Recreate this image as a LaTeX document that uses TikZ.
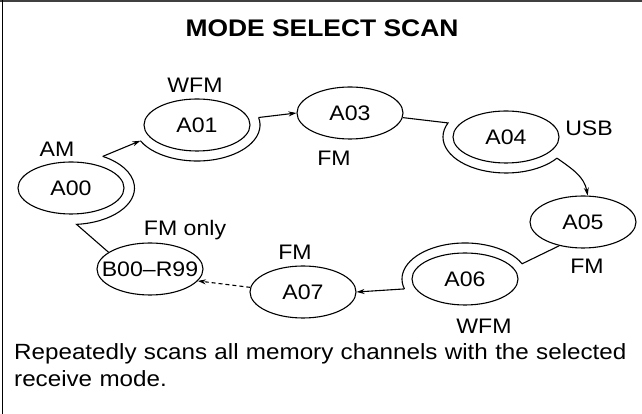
\documentclass[tikz,border=0pt]{standalone}
\usepackage{fontspec}
\setmainfont[FakeStretch=1.1]{Liberation Sans}
\usetikzlibrary{shapes.geometric,arrows.meta}
\begin{document}
\begin{tikzpicture}[x=1pt,y=1pt,
  st/.style={ellipse, draw, line width=1.1pt, minimum width=106pt, minimum height=52pt, inner sep=0pt, font=\fontsize{21}{25}\selectfont},
  lab/.style={anchor=base, inner sep=0pt, font=\fontsize{21}{25}\selectfont},
  con/.style={line width=1.1pt},
  arr/.style={con, -{Stealth[length=8pt,width=5pt]}},
  frameline/.style={line width=1.4pt}
]
\useasboundingbox (0,0) rectangle (642,414);
\draw[frameline, black!75, line width=2pt] (0,413) -- (642,413);
\draw[frameline] (2.5,0) -- (2.5,414);

\node[anchor=base, inner sep=0pt, font=\fontsize{24}{28}\selectfont\bfseries] (title) at (322,377) {MODE SELECT SCAN};

\node[st] (a00) at (71,226) {\makebox[0pt]{A00}};
\node[st] (a01) at (197,289) {\makebox[0pt]{A01}};
\node[st] (a03) at (350,301) {\makebox[0pt]{A03}};
\node[st] (a04) at (506,277) {\makebox[0pt]{A04}};
\node[st] (a05) at (583,192) {\makebox[0pt]{A05}};
\node[st] (a06) at (465,135) {\makebox[0pt]{A06}};
\node[st] (a07) at (303,122) {\makebox[0pt]{A07}};
\node[st] (b00) at (150,145) {\makebox[0pt]{B00–R99}};

\node[lab] (lam) at (57,257) {AM};
\node[lab] (lwfm1) at (195,321.5) {WFM};
\node[lab] (lfm1) at (334,248.5) {FM};
\node[lab] (lusb) at (589,278) {USB};
\node[lab] (lfm2) at (587,140.5) {FM};
\node[lab] (lwfm2) at (484,80.5) {WFM};
\node[lab] (lfm3) at (295,154) {FM};
\node[lab] (lfmo) at (185,178) {FM only};

\coordinate (p00a) at ([shift={(-85:63.5 and 36.5)}]a00.center);
\coordinate (p00b) at ([shift={(60:63.5 and 36.5)}]a00.center);
\coordinate (p01a) at ([shift={(-154:63 and 36)}]a01.center);
\coordinate (p01b) at ([shift={(12:63 and 36)}]a01.center);
\coordinate (p04a) at ([shift={(157:63 and 36)}]a04.center);
\coordinate (p04b) at ([shift={(324:63 and 36)}]a04.center);
\coordinate (p06a) at ([shift={(25:63 and 36)}]a06.center);
\coordinate (p06b) at ([shift={(196:63 and 36)}]a06.center);

\draw[con] (b00.158) -- (p00a) arc[start angle=-85, end angle=60, x radius=63.5, y radius=36.5];
\draw[arr] (p00b) -- (p01a);
\draw[con] (p01a) arc[start angle=-154, end angle=12, x radius=63, y radius=36];
\draw[arr] (p01b) -- (a03.west);
\draw[con] (a03.-5) -- (p04a) arc[start angle=157, end angle=324, x radius=63, y radius=36];
\draw[arr] (p04b) to[out=-35, in=100] (a05.80);
\draw[con] (a05.225) -- (p06a) arc[start angle=25, end angle=196, x radius=63, y radius=36];
\draw[arr] (p06b) -- (a07.east);
\draw[arr, dashed, dash pattern=on 4pt off 3pt] (a07.175) -- (b00.-14);

\node[anchor=base west, inner sep=0pt, text width=625pt, align=left, font=\fontsize{22}{26.5}\selectfont] (cap) at (14,54) {Repeatedly scans all memory channels with the selected\\receive mode.};
\end{tikzpicture}
\end{document}
